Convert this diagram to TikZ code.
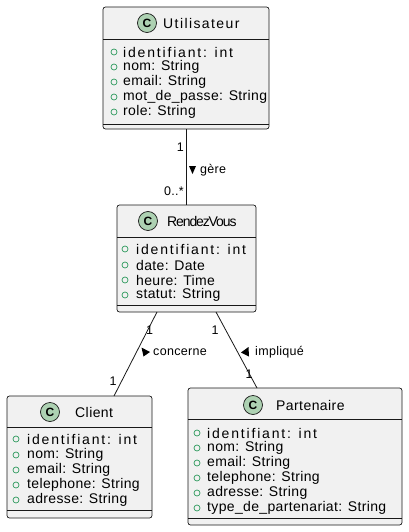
\documentclass[tikz,border=0pt]{standalone}
\usepackage{fontspec}
\setmainfont{Liberation Sans}
\newfontfamily\attrfont[LetterSpace=2.5]{Liberation Sans}
\newfontfamily\idfont[LetterSpace=13]{Liberation Sans}
\newfontfamily\titlefont[LetterSpace=3]{Liberation Sans}
\newfontfamily\widetitlefont[LetterSpace=10]{Liberation Sans}
\newfontfamily\condfont[LetterSpace=-8]{Liberation Sans}
\definecolor{boxfill}{HTML}{F1F1F1}
\definecolor{boxline}{HTML}{181818}
\definecolor{iconfill}{HTML}{ADD1B2}
\definecolor{attrgreen}{HTML}{2E9A5E}
\tikzset{
  classbox/.style={draw=boxline, fill=boxfill, rounded corners=2.5pt, line width=0.7pt, inner sep=0pt},
  sep/.style={draw=boxline, line width=0.7pt},
  icon/.style={circle, draw=boxline, fill=iconfill, line width=0.7pt, minimum size=19pt, inner sep=0pt, font=\fontsize{12}{12}\selectfont\bfseries},
  ctitle/.style={anchor=west, inner sep=0pt, font=\fontsize{14}{14}\titlefont},
  attr/.style={anchor=west, inner sep=0pt, font=\fontsize{14}{14}\attrfont},
  dot/.style={circle, draw=attrgreen, line width=0.7pt, minimum size=6pt, inner sep=0pt},
  conn/.style={draw=boxline, line width=0.8pt},
  lbl/.style={inner sep=0pt, font=\fontsize{12.5}{12.5}\attrfont},
  tri/.style={fill=black}
}
\begin{document}
\begin{tikzpicture}[x=1pt,y=-1pt]
\useasboundingbox (0,0) rectangle (409,532);
% ---------- Utilisateur
\node[classbox, minimum width=166pt, minimum height=122pt] (U) at (186,68) {};
\draw[sep] (103,39) -- (269,39);
\draw[sep] (103,124) -- (269,124);
\node[icon] (Ui) at (147,23) {C};
\node[ctitle, font=\fontsize{14}{14}\widetitlefont] (Ut) at (163,23) {Utilisateur};
\node[dot] (Ud1) at (114,52) {}; \node[attr] (Ua1) at (123,52) {\idfont identifiant: int};
\node[dot] (Ud2) at (114,67) {}; \node[attr] (Ua2) at (123,67) {nom: String};
\node[dot] (Ud3) at (114,82) {}; \node[attr] (Ua3) at (123,82) {email: String};
\node[dot] (Ud4) at (114,97) {}; \node[attr] (Ua4) at (123,97) {mot\_de\_passe: String};
\node[dot] (Ud5) at (114,112) {}; \node[attr] (Ua5) at (123,112) {role: String};
% ---------- RendezVous
\node[classbox, minimum width=139pt, minimum height=107pt] (R) at (186.5,258.5) {};
\draw[sep] (117,237) -- (256,237);
\draw[sep] (117,305) -- (256,305);
\node[icon] (Ri) at (148,221) {C};
\node[ctitle, font=\fontsize{14}{14}\condfont] (Rt) at (167,221) {RendezVous};
\node[dot] (Rd1) at (125,249) {}; \node[attr] (Ra1) at (136,249) {\idfont identifiant: int};
\node[dot] (Rd2) at (125,265) {}; \node[attr] (Ra2) at (136,265) {date: Date};
\node[dot] (Rd3) at (125,280) {}; \node[attr] (Ra3) at (136,280) {heure: Time};
\node[dot] (Rd4) at (125,295) {}; \node[attr] (Ra4) at (136,295) {statut: String};
% ---------- Client
\node[classbox, minimum width=145pt, minimum height=122pt] (C) at (79.5,457) {};
\draw[sep] (7,427) -- (152,427);
\draw[sep] (7,510) -- (152,510);
\node[icon] (Ci) at (50,412) {C};
\node[ctitle] (Ct) at (75,412) {Client};
\node[dot] (Cd1) at (16,439) {}; \node[attr] (Ca1) at (27,439) {\idfont identifiant: int};
\node[dot] (Cd2) at (16,455) {}; \node[attr] (Ca2) at (27,455) {nom: String};
\node[dot] (Cd3) at (16,470) {}; \node[attr] (Ca3) at (27,470) {email: String};
\node[dot] (Cd4) at (16,485) {}; \node[attr] (Ca4) at (27,485) {telephone: String};
\node[dot] (Cd5) at (16,500) {}; \node[attr] (Ca5) at (27,500) {adresse: String};
% ---------- Partenaire
\node[classbox, minimum width=214pt, minimum height=137pt] (P) at (295,456.5) {};
\draw[sep] (188,419) -- (402,419);
\draw[sep] (188,518) -- (402,518);
\node[icon] (Pi) at (253,405) {C};
\node[ctitle] (Pt) at (276,405) {Partenaire};
\node[dot] (Pd1) at (197,433) {}; \node[attr] (Pa1) at (207,433) {\idfont identifiant: int};
\node[dot] (Pd2) at (197,448) {}; \node[attr] (Pa2) at (207,448) {nom: String};
\node[dot] (Pd3) at (197,463) {}; \node[attr] (Pa3) at (207,463) {email: String};
\node[dot] (Pd4) at (197,478) {}; \node[attr] (Pa4) at (207,478) {telephone: String};
\node[dot] (Pd5) at (197,493) {}; \node[attr] (Pa5) at (207,493) {adresse: String};
\node[dot] (Pd6) at (197,508) {}; \node[attr] (Pa6) at (207,508) {type\_de\_partenariat: String};
% ---------- connectors
\coordinate (Ub) at (186,129);
\coordinate (Rtop) at (186,205);
\coordinate (Rbl) at (157,312);
\coordinate (Ctop) at (114,396);
\coordinate (Rbr) at (216,312);
\coordinate (Ptop) at (257,388);
\draw[conn] (Ub) -- (Rtop);
\draw[conn] (Rbl) -- (Ctop);
\draw[conn] (Rbr) -- (Ptop);
% labels
\node[lbl, anchor=east] (l1) at (184,147) {1};
\node[lbl, anchor=east] (l2) at (184,191) {0..*};
\fill[tri] (189,166) -- (196,166) -- (192.5,174) -- cycle;
\node[lbl, anchor=west] (g) at (200,170) {gère};
\node[lbl] (l3) at (149.5,330) {1};
\node[lbl] (l4) at (113,381) {1};
\fill[tri] (141.5,347.5) -- (150,352) -- (143.5,356.5) -- cycle;
\node[lbl, anchor=west] (c) at (153,352) {concerne};
\node[lbl] (l5) at (215,330) {1};
\node[lbl] (l6) at (249,374) {1};
\fill[tri] (248.5,347) -- (241,352.5) -- (249,356.5) -- cycle;
\node[lbl, anchor=west] (i) at (255,352) {impliqué};
\end{tikzpicture}
\end{document}
